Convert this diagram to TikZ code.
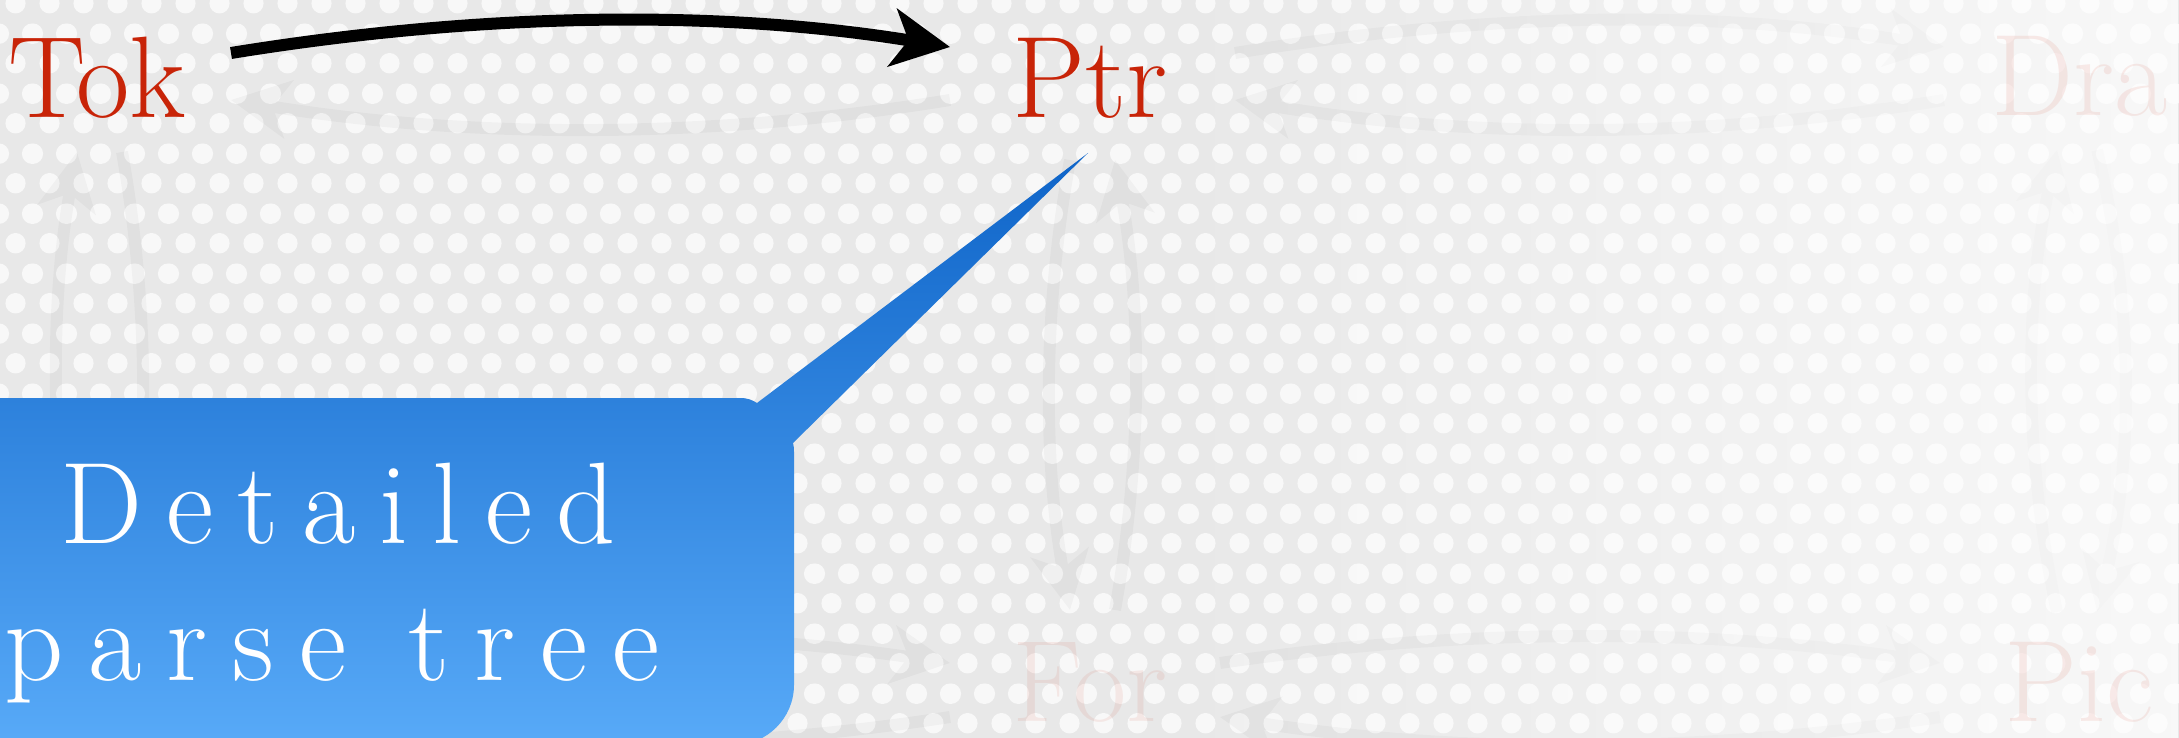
\documentclass[tikz,border=0pt]{standalone}
\usepackage{fontspec}
\usetikzlibrary{arrows.meta,calc,patterns,fadings}
\definecolor{tokred}{RGB}{200,36,8}
\definecolor{bgg}{RGB}{232,232,232}
\definecolor{dotc}{RGB}{248,248,248}
\definecolor{calltop}{RGB}{14,100,200}
\definecolor{callbot}{RGB}{88,170,248}
\pgfdeclarepatternformonly{hexdots}{\pgfpointorigin}{\pgfqpoint{17pt}{30pt}}{\pgfqpoint{17pt}{30pt}}{%
  \pgfpathcircle{\pgfqpoint{8.5pt}{7.5pt}}{5.2pt}%
  \pgfpathcircle{\pgfqpoint{0pt}{22.5pt}}{5.2pt}%
  \pgfpathcircle{\pgfqpoint{17pt}{22.5pt}}{5.2pt}%
  \pgfusepath{fill}}
\tikzfading[name=fadeR, left color=transparent!100, right color=transparent!0]
\makeatletter
\newcommand\lspaced[2]{\def\lsp@k{#1}\@tfor\lsp@c:=#2\do{\lsp@c\kern\lsp@k}\unkern}
\makeatother
\begin{document}
\begin{tikzpicture}[x=0.5pt,y=-0.5pt,
  lab/.style={font=\fontsize{58}{70}\selectfont, inner sep=0pt, anchor=base},
  calltext/.style={font=\fontsize{58}{70}\selectfont, text=white, inner sep=0pt, anchor=base west},
  bigarr/.style={line width=6pt, -{Stealth[length=29pt,width=29pt,inset=8pt]}},
  faintlab/.style={lab, text=tokred, opacity=0.08}]
\useasboundingbox (0,0) rectangle (2179,738);
\clip (0,0) rectangle (2179,738);
% background
\fill[bgg] (0,0) rectangle (2179,738);
\fill[pattern=hexdots, pattern color=dotc] (0,0) rectangle (2179,738);
% nodes
\node[lab, text=tokred] (Tok) at (97,118) {Tok};
\node[lab, text=tokred] (Ptr) at (1090,118) {Ptr};
\node[faintlab] (Dra) at (2080,116) {Dra};
\node[faintlab] (Pic) at (2079,721) {Pic};
\node[faintlab] (For) at (1090,721) {For};
\coordinate (Hid) at (97,727);
% faint connectors
\begin{scope}[transparency group, opacity=0.032]
\draw[bigarr] ($(Ptr.base)+(-140,-18)$) .. controls +(-240,39) and +(240,39) .. ($(Tok.base)+(134,-18)$);
\draw[bigarr] ($(Ptr.base)+(145,-65)$) .. controls +(240,-39) and +(-240,-39) .. ($(Dra.base)+(-136,-69)$);
\draw[bigarr] ($(Dra.base)+(-136,-16)$) .. controls +(-240,39) and +(240,39) .. ($(Ptr.base)+(145,-18)$);
\draw[bigarr] ($(Pic.base)+(-22,-109)$) .. controls +(-33,-154) and +(-33,154) .. ($(Dra.base)+(-23,34)$);
\draw[bigarr] ($(Dra.base)+(17,34)$) .. controls +(37,154) and +(37,-154) .. ($(Pic.base)+(18,-109)$);
\draw[bigarr] ($(For.base)+(130,-58)$) .. controls +(240,-35) and +(-240,-35) .. ($(Pic.base)+(-139,-58)$);
\draw[bigarr] ($(Pic.base)+(-139,-4)$) .. controls +(-240,37) and +(240,37) .. ($(For.base)+(130,-4)$);
\draw[bigarr] ($(Ptr.base)+(-20,42)$) .. controls +(-27,150) and +(-27,-150) .. ($(For.base)+(-20,-111)$);
\draw[bigarr] ($(For.base)+(25,-111)$) .. controls +(27,-150) and +(27,150) .. ($(Ptr.base)+(25,42)$);
\draw[bigarr] ($(Hid)+(-20,-117)$) .. controls +(-27,-150) and +(-27,150) .. ($(Tok.base)+(-20,34)$);
\draw[bigarr] ($(Tok.base)+(25,34)$) .. controls +(27,150) and +(27,-150) .. ($(Hid)+(25,-117)$);
\draw[bigarr] ($(Hid)+(134,-64)$) .. controls +(240,-35) and +(-240,-35) .. ($(For.base)+(-140,-58)$);
\draw[bigarr] ($(For.base)+(-140,-4)$) .. controls +(-240,37) and +(240,37) .. ($(Hid)+(134,-10)$);
\end{scope}
% fade on the right
\fill[white, opacity=0.7, path fading=fadeR] (1150,0) rectangle (2179,738);
% faint labels again above the fade
\node[faintlab, opacity=0.06] at (Dra.base) {Dra};
\node[faintlab, opacity=0.06] at (Pic.base) {Pic};
% main connector
\draw[bigarr, black] ($(Tok.base)+(134,-65)$) .. controls +(240,-39) and +(-240,-39) .. ($(Ptr.base)+(-140,-71)$);
% callout
\coordinate (tip) at ($(Ptr.base)+(-2,35)$);
\shade[top color=calltop, bottom color=callbot]
  (-80,398) -- (740,398) .. controls (748,398) and (752,400) .. (757,403)
  -- (tip) -- (793,443) .. controls (794,446) and (794,449) .. (794,452)
  -- (794,685) .. controls (794,718) and (767,745) .. (734,745) -- (-80,745) -- cycle;
\node[calltext] (L1) at (60,543) {\lspaced{12pt}{Detailed}};
\node[calltext] (L2) at (4,680) {\lspaced{12.5pt}{parse}\hspace{31pt}\lspaced{12.5pt}{tree}};
\end{tikzpicture}
\end{document}
